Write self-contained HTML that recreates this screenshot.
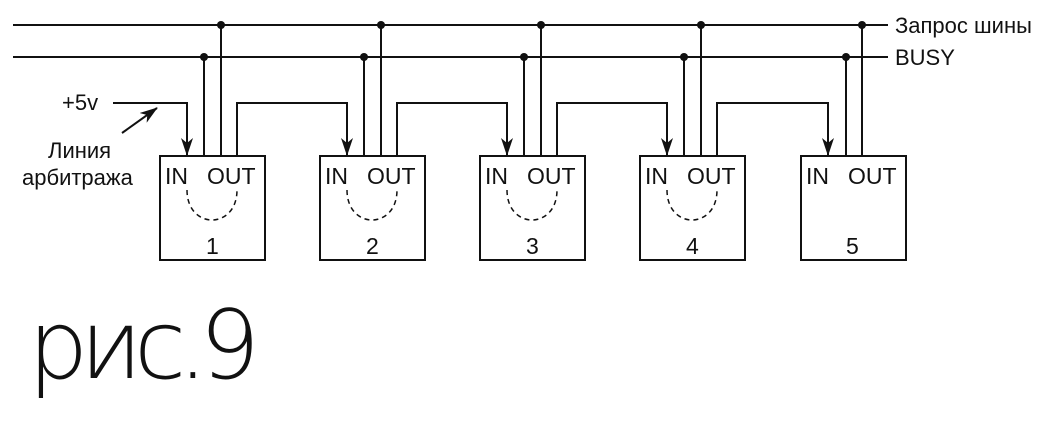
<!DOCTYPE html>
<html><head><meta charset="utf-8"><style>
html,body{margin:0;padding:0;background:#fff;width:1060px;height:427px;overflow:hidden}
text{font-family:"Liberation Sans",sans-serif;fill:#111}
</style></head><body>
<svg width="1060" height="427" viewBox="0 0 1060 427" xmlns="http://www.w3.org/2000/svg">
<defs>
<marker id="b" markerWidth="18" markerHeight="12" refX="17" refY="6" orient="auto" markerUnits="userSpaceOnUse">
<path d="M0,0 L18,6 L0,12 L5,6 Z" fill="#111"/></marker></defs>
<g stroke="#111" stroke-width="2" fill="none">
<line x1="13" y1="25" x2="888" y2="25"/>
<line x1="13" y1="57" x2="888" y2="57"/>
<polyline points="113,103 187,103 187,155" marker-end="url(#b)"/>
<line x1="122" y1="133" x2="157" y2="108" marker-end="url(#b)"/>
</g>
<g stroke="#111" stroke-width="2" fill="none">
<rect x="160" y="156" width="105" height="104"/>
<rect x="320" y="156" width="105" height="104"/>
<rect x="480" y="156" width="105" height="104"/>
<rect x="640" y="156" width="105" height="104"/>
<rect x="801" y="156" width="105" height="104"/>
<line x1="204" y1="57" x2="204" y2="156"/><line x1="221" y1="25" x2="221" y2="156"/>
<line x1="364" y1="57" x2="364" y2="156"/><line x1="381" y1="25" x2="381" y2="156"/>
<line x1="524" y1="57" x2="524" y2="156"/><line x1="541" y1="25" x2="541" y2="156"/>
<line x1="684" y1="57" x2="684" y2="156"/><line x1="701" y1="25" x2="701" y2="156"/>
<line x1="846" y1="57" x2="846" y2="156"/><line x1="862" y1="25" x2="862" y2="156"/>
<polyline points="237,156 237,103 347,103 347,155" marker-end="url(#b)"/>
<polyline points="397,156 397,103 507,103 507,155" marker-end="url(#b)"/>
<polyline points="557,156 557,103 667,103 667,155" marker-end="url(#b)"/>
<polyline points="717,156 717,103 828,103 828,155" marker-end="url(#b)"/>
<g stroke-dasharray="5,4" stroke-width="1.5">
<path d="M187,190 C187,230 237,230 237,190"/>
<path d="M347,190 C347,230 397,230 397,190"/>
<path d="M507,190 C507,230 557,230 557,190"/>
<path d="M667,190 C667,230 717,230 717,190"/>
</g>
</g>
<g fill="#111">
<circle cx="204" cy="57" r="4"/><circle cx="221" cy="25" r="4"/>
<circle cx="364" cy="57" r="4"/><circle cx="381" cy="25" r="4"/>
<circle cx="524" cy="57" r="4"/><circle cx="541" cy="25" r="4"/>
<circle cx="684" cy="57" r="4"/><circle cx="701" cy="25" r="4"/>
<circle cx="846" cy="57" r="4"/><circle cx="862" cy="25" r="4"/>
</g>
<g font-size="22">
<text x="895" y="33">Запрос шины</text>
<text x="895" y="65">BUSY</text>
<text x="62" y="110">+5v</text>
<text x="48" y="158">Линия</text>
<text x="22" y="185">арбитража</text>
<g font-size="23">
<text x="165" y="184">IN</text><text x="207" y="184">OUT</text>
<text x="325" y="184">IN</text><text x="367" y="184">OUT</text>
<text x="485" y="184">IN</text><text x="527" y="184">OUT</text>
<text x="645" y="184">IN</text><text x="687" y="184">OUT</text>
<text x="806" y="184">IN</text><text x="848" y="184">OUT</text>
<text x="206" y="254">1</text><text x="366" y="254">2</text><text x="526" y="254">3</text><text x="686" y="254">4</text><text x="846" y="254">5</text>
</g>
</g>
<text x="28" y="378" font-size="95" style="font-family:'DejaVu Sans',sans-serif;font-weight:200" textLength="232" lengthAdjust="spacing">рис.9</text>
</svg>
</body></html>
